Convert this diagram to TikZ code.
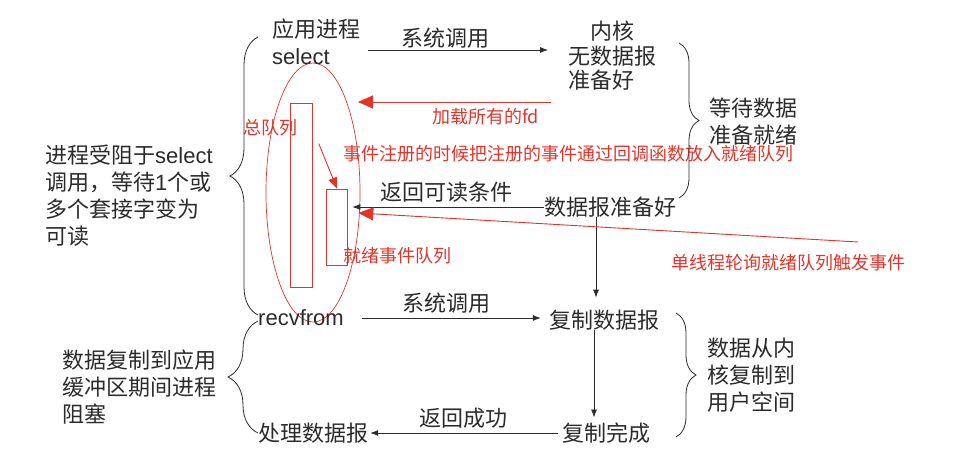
\documentclass[tikz,border=0pt]{standalone}
\usepackage{fontspec}
\setmainfont{Noto Sans CJK SC}
\newfontfamily\latin{Liberation Sans}
\usetikzlibrary{arrows.meta,decorations.pathreplacing,shapes.geometric}
\definecolor{ink}{HTML}{2B2B2B}
\definecolor{mark}{HTML}{E5332A}

\begin{document}
\begin{tikzpicture}[x=1pt, y=-1pt,
    txt/.style={inner sep=0pt, anchor=west, align=left, text=ink,
          font=\fontsize{22}{27}\selectfont},
    redtxt/.style={inner sep=0pt, anchor=west, text=mark,
          font=\fontsize{18}{22}\selectfont},
    arr/.style={draw=ink, line width=0.8pt, -{Latex[length=8pt,width=6pt]}},
    redarr/.style={draw=mark, line width=0.9pt, -{Triangle[length=15pt,width=13pt]}},
    brc/.style={draw=ink, line width=0.8pt, decorate,
          decoration={brace, amplitude=#1}},
    qbox/.style={draw=mark, line width=0.9pt, inner sep=0pt}]

    \useasboundingbox (0,0) rectangle (972,470);

    \node[draw=mark, line width=0.7pt, ellipse, inner sep=0pt,
          minimum width=94pt, minimum height=259pt] (evt) at (313,192.5) {};
    \node[qbox, minimum width=22pt, minimum height=184pt] (allq) at (301.3,195) {};
    \node[qbox, minimum width=21.7pt, minimum height=76pt] (readyq) at (337,227) {};

    \node[txt] (app) at (272,42) {应用进程\\{\latin select}};
    \node[txt, font=\fontsize{22}{24.5}\selectfont] (kern) at (568,56)
          {\hspace*{1em}内核\\无数据报\\准备好};
    \node[txt] (wait) at (709,122) {等待数据\\准备就绪};
    \node[txt] (blocked) at (45,196)
          {进程受阻于{\latin select}\\调用，等待{\latin 1}个或\\多个套接字变为\\可读};
    \node[txt, anchor=center] (ready) at (610,207) {数据报准备好};
    \node[txt] (recv) at (258,318) {{\latin recvfrom}};
    \node[txt, anchor=center] (copy) at (604,320) {复制数据报};
    \node[txt] (copytxt) at (707,375) {数据从内\\核复制到\\用户空间};
    \node[txt] (copyblk) at (62,387) {数据复制到应用\\缓冲区期间进程\\阻塞};
    \node[txt, anchor=center] (done) at (606,433) {复制完成};
    \node[txt, anchor=center] (handle) at (313,433) {处理数据报};

    \node[redtxt] (allqlbl) at (243,128) {总队列};
    \node[redtxt] (fdlbl) at (432,117) {加载所有的fd};
    \node[redtxt] (reglbl) at (343,154) {事件注册的时候把注册的事件通过回调函数放入就绪队列};
    \node[redtxt] (readylbl) at (343,256) {就绪事件队列};
    \node[redtxt] (polllbl) at (671,263) {单线程轮询就绪队列触发事件};

    \coordinate (sys1) at ([shift={(8,8)}]app.east);
    \draw[arr] (sys1) -- ([xshift=-20pt]sys1 -| kern.west)
          node[txt, anchor=south, pos=0.43, yshift=1pt] {系统调用};
    \draw[arr, shorten >=4pt] (ready.west) -- (ready.west -| readyq.east)
          node[txt, anchor=south, midway, yshift=4pt] {返回可读条件};
    \draw[arr, shorten >=12pt] ([xshift=-14pt]ready.south) -- ([xshift=-14pt]ready.south |- copy.north);
    \draw[arr, shorten >=8pt] ([xshift=18pt]recv.east) -- (recv.east -| copy.west)
          node[txt, anchor=south, pos=0.45, yshift=4pt] {系统调用};
    \draw[arr, shorten >=5pt] ([xshift=-10pt]copy.south) -- ([xshift=-10pt]copy.south |- done.north);
    \draw[arr, shorten >=2pt] ([xshift=-4pt]done.west) -- (handle.east)
          node[txt, anchor=south, midway, yshift=4pt] {返回成功};

    \coordinate (fdtip) at (358,102);
    \draw[redarr] ([xshift=-17pt]fdtip -| kern.west) -- (fdtip);
    \draw[redarr, -{Triangle[length=11pt,width=9pt]}] ([shift={(6,41)}]allq.north east) -- (readyq.north);
    \coordinate (pollsrc) at (858,242);
    \draw[redarr] (pollsrc) -- ([shift={(10,-14)}]readyq.east);

    \draw[brc=28pt] (258,315) -- (258,37);
    \draw[brc=30pt] (258,433) -- (258,321);
    \draw[brc=20pt] (679,43) -- (679,198);
    \draw[brc=20pt] (676,313) -- (676,437);
\end{tikzpicture}
\end{document}
